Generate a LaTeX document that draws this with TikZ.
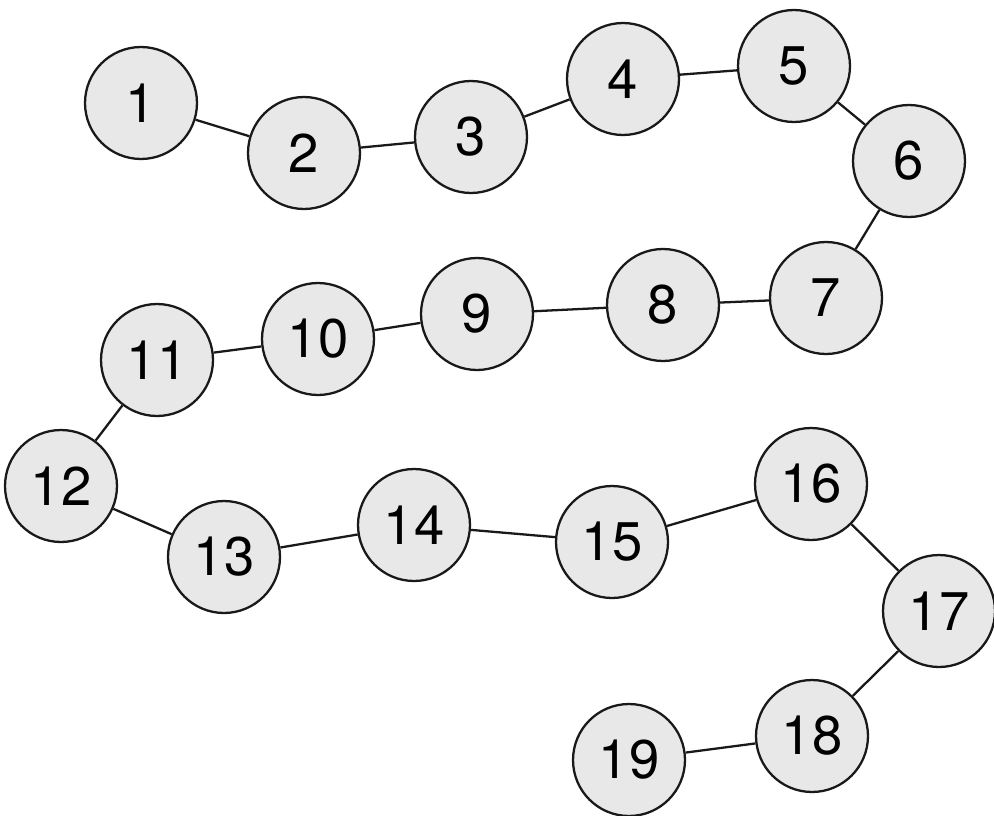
\documentclass[tikz,border=0pt]{standalone}
\usepackage{fontspec}
\setsansfont{TeX Gyre Heros}
\usetikzlibrary{calc}
\newcommand{\bead}{2.24cm}
\tikzset{
  ball/.style={
    circle, draw=black!90, fill=black!9, line width=1.3pt,
    minimum size=\bead, inner sep=0pt,
    font=\sffamily\fontsize{31}{31}\selectfont
  },
  link/.style={black!90, line width=1.3pt}
}

\begin{document}
\begin{tikzpicture}[x=0.02cm, y=-0.02cm]
  \useasboundingbox (0,0) rectangle (994,815);
  \foreach \i/\px/\py in {1/141/103, 2/304/153, 3/471/137, 4/623/79, 5/794/66,
      6/909/161, 7/826/298, 8/663/305, 9/477/314, 10/318/339, 11/157/360,
      12/61/486, 13/224/557, 14/414/525, 15/612/542, 16/811/484,
      17/939/611, 18/812/736, 19/629/760} {
    \node[ball, name=c\i] at (\px,\py) {\i};
  }
  \foreach \i [evaluate=\i as \j using int(\i+1)] in {1,...,18} {
    \draw[link] (c\i) -- (c\j);
  }
\end{tikzpicture}
\end{document}
